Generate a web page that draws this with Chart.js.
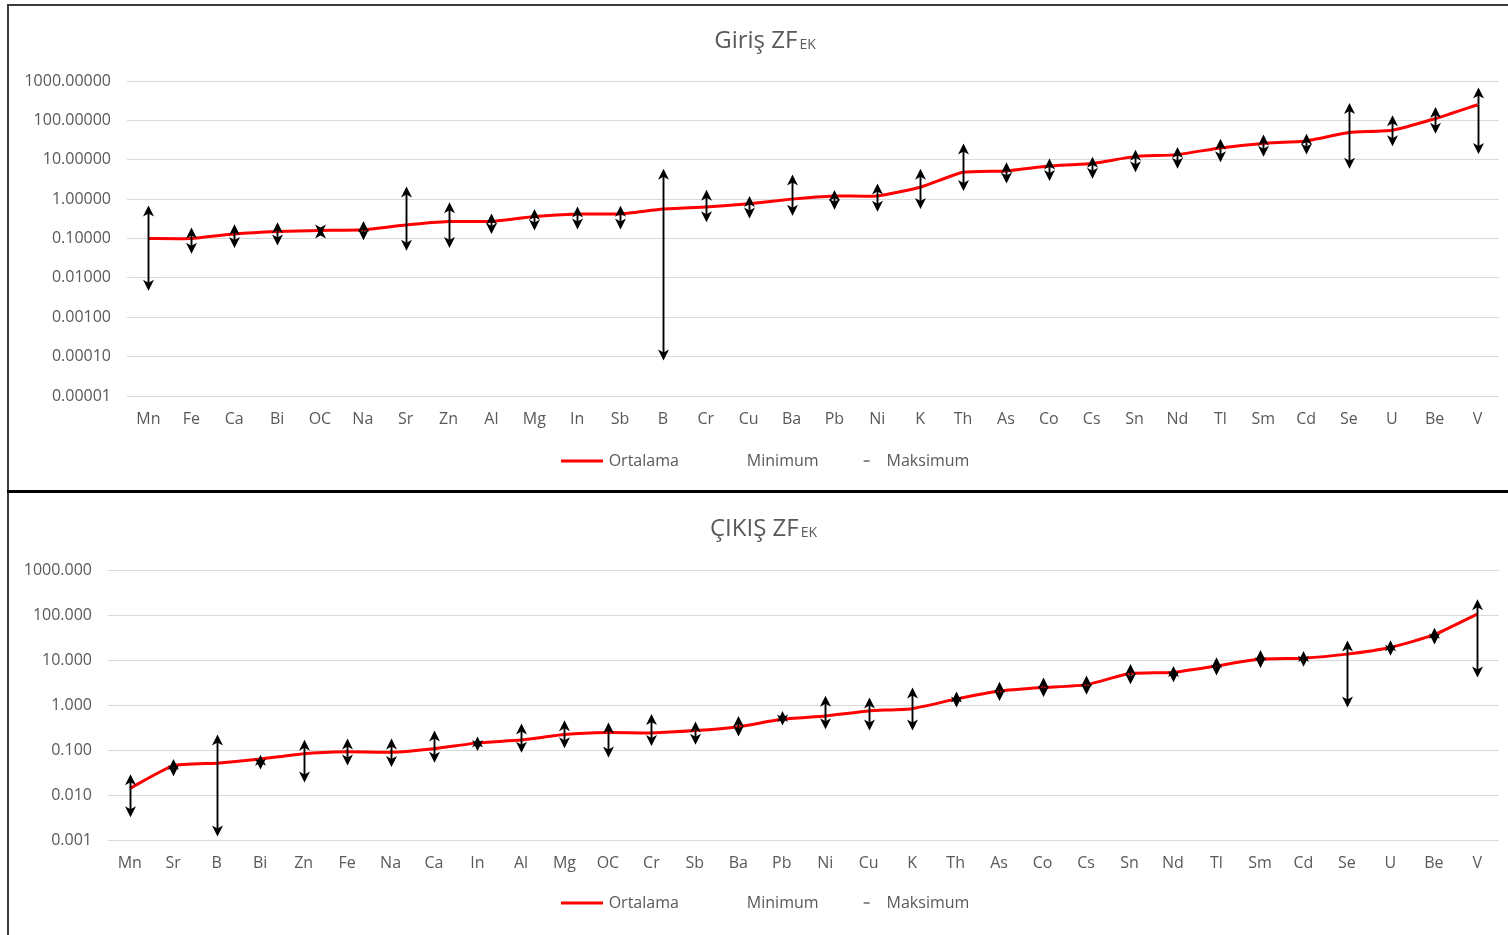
<!DOCTYPE html>
<html lang="tr">
<head>
<meta charset="utf-8">
<title>ZF EK</title>
<script src="https://cdn.jsdelivr.net/npm/chart.js@4.4.1/dist/chart.umd.min.js"></script>
<style>
  html, body { margin: 0; padding: 0; background: #fff; }
  body { width: 1508px; height: 935px; position: relative; overflow: hidden; }
  .frame-left { position: absolute; left: 7px; top: 4px; width: 2px; height: 931px; background: #3c3c3c; }
  .frame-top { position: absolute; left: 7px; top: 4px; width: 1501px; height: 2px; background: #3c3c3c; }
  .divider { position: absolute; left: 7px; top: 490px; width: 1501px; height: 3px; background: #000; }
  .panel { position: absolute; left: 9px; width: 1499px; }
  #p1 { top: 6px; height: 484px; }
  #p2 { top: 493px; height: 442px; }
</style>
</head>
<body>
<div class="frame-top"></div>
<div class="frame-left"></div>
<div class="divider"></div>
<div class="panel" id="p1"><canvas id="girisChart"></canvas></div>
<div class="panel" id="p2"><canvas id="cikisChart"></canvas></div>

<script>
// ---- Giriş (inlet) enrichment factors ----
const girisCategories = ['Mn','Fe','Ca','Bi','OC','Na','Sr','Zn','Al','Mg','In','Sb','B','Cr','Cu','Ba',
                         'Pb','Ni','K','Th','As','Co','Cs','Sn','Nd','Tl','Sm','Cd','Se','U','Be','V'];
const girisOrtalama = [0.100, 0.100, 0.13, 0.15, 0.16, 0.166, 0.22, 0.27, 0.27, 0.36, 0.42, 0.42, 0.56, 0.63, 0.76, 1.0,
                       1.2, 1.2, 2.0, 4.8, 5.2, 6.9, 8.0, 12, 13.5, 20, 26, 30, 49, 56, 110, 250];
const girisMinimum  = [0.0047, 0.041, 0.057, 0.066, 0.12, 0.09, 0.049, 0.057, 0.13, 0.16, 0.17, 0.17, 0.00008, 0.26, 0.32, 0.38,
                       0.54, 0.48, 0.56, 1.6, 2.5, 2.9, 3.3, 4.8, 5.9, 8.7, 12, 13.5, 5.9, 22, 46, 14];
const girisMaksimum = [0.69, 0.19, 0.23, 0.26, 0.19, 0.28, 2.1, 0.83, 0.43, 0.56, 0.65, 0.68, 5.9, 1.73, 1.2, 4.2,
                       1.7, 2.5, 5.9, 26, 8.7, 10.7, 12, 18, 21, 34, 44, 46, 276, 134, 218, 680];
const girisYTicks  = [0.00001, 0.0001, 0.001, 0.01, 0.1, 1, 10, 100, 1000];
const girisYLabels = ['0.00001','0.00010','0.00100','0.01000','0.10000','1.00000','10.00000','100.00000','1000.00000'];

// ---- Çıkış (outlet) enrichment factors ----
const cikisCategories = ['Mn','Sr','B','Bi','Zn','Fe','Na','Ca','In','Al','Mg','OC','Cr','Sb','Ba','Pb',
                         'Ni','Cu','K','Th','As','Co','Cs','Sn','Nd','Tl','Sm','Cd','Se','U','Be','V'];
const cikisOrtalama = [0.014, 0.045, 0.051, 0.063, 0.083, 0.091, 0.089, 0.107, 0.144, 0.166, 0.22, 0.245, 0.24, 0.27, 0.33, 0.48,
                       0.57, 0.74, 0.83, 1.35, 2.05, 2.45, 2.8, 5.0, 5.3, 7.4, 10.5, 11, 13.5, 19, 36, 105];
const cikisMinimum  = [0.0032, 0.026, 0.0012, 0.037, 0.019, 0.045, 0.042, 0.052, 0.095, 0.087, 0.11, 0.068, 0.123, 0.13, 0.20, 0.35,
                       0.29, 0.27, 0.27, 0.88, 1.23, 1.5, 1.7, 2.9, 3.2, 4.5, 6.6, 7.1, 0.88, 12.4, 22, 4.1];
const cikisMaksimum = [0.029, 0.063, 0.22, 0.078, 0.17, 0.18, 0.18, 0.27, 0.20, 0.39, 0.46, 0.41, 0.63, 0.43, 0.57, 0.74,
                       1.6, 1.46, 2.45, 2.0, 3.3, 4.1, 4.5, 8.1, 7.4, 11.5, 16.6, 15.8, 27, 27.6, 52, 225];
const cikisYTicks  = [0.001, 0.01, 0.1, 1, 10, 100, 1000];
const cikisYLabels = ['0.001','0.010','0.100','1.000','10.000','100.000','1000.000'];

const legendNames = ['Ortalama', 'Minimum', 'Maksimum'];

const FONT = "'Open Sans', sans-serif";
const TEXT_GREY = '#595959';
const GRID_GREY = '#d9d9d9';
Chart.defaults.font.family = FONT;
Chart.defaults.color = TEXT_GREY;

// Small legend sample images (line / none / dash)
function makeSample(kind) {
  const c = document.createElement('canvas');
  c.width = 42; c.height = 4;
  const g = c.getContext('2d');
  if (kind === 'line') { g.fillStyle = '#ff0000'; g.fillRect(0, 0.5, 42, 3); }
  if (kind === 'dash') { g.fillStyle = '#8c8c8c'; g.fillRect(25, 1, 6, 2); }
  return c;
}
const legendSamples = [makeSample('line'), makeSample('none'), makeSample('dash')];

// Min / max arrows drawn from each mean point along the value scale
const arrowPlugin = {
  id: 'minMaxArrows',
  afterDatasetsDraw(chart) {
    const { ctx, scales: { x, y } } = chart;
    const mean = chart.data.datasets[0].data;
    const lo = chart.data.datasets[1].data;
    const hi = chart.data.datasets[2].data;
    ctx.save();
    ctx.strokeStyle = '#000';
    ctx.fillStyle = '#000';
    ctx.lineWidth = 1.9;
    mean.forEach((m, i) => {
      const px = Math.round(x.getPixelForValue(i)) + 0.5;
      const pm = y.getPixelForValue(m);
      [hi[i], lo[i]].forEach(v => {
        const pt = y.getPixelForValue(v);
        const dir = pt < pm ? -1 : 1;
        ctx.beginPath();
        ctx.moveTo(px, pm);
        ctx.lineTo(px, pt - dir * 4);
        ctx.stroke();
        // stealth-style head
        ctx.beginPath();
        ctx.moveTo(px, pt);
        ctx.lineTo(px - 5.5, pt - dir * 11);
        ctx.lineTo(px, pt - dir * 8);
        ctx.lineTo(px + 5.5, pt - dir * 11);
        ctx.closePath();
        ctx.fill();
      });
    });
    ctx.restore();
  }
};

// Title with subscript part
const subTitlePlugin = {
  id: 'subTitle',
  afterDraw(chart, args, opts) {
    const ctx = chart.ctx;
    ctx.save();
    ctx.fillStyle = TEXT_GREY;
    ctx.textBaseline = 'alphabetic';
    ctx.textAlign = 'left';
    const mainFont = '24px ' + FONT;
    const subFont = '14px ' + FONT;
    ctx.font = mainFont;
    const wMain = ctx.measureText(opts.main).width;
    ctx.font = subFont;
    const wSub = ctx.measureText(opts.sub).width;
    const cx = (chart.chartArea.left + chart.chartArea.right) / 2 + opts.shift;
    const x0 = cx - (wMain + wSub + 2) / 2;
    ctx.font = mainFont;
    ctx.fillText(opts.main, x0, opts.baseline);
    ctx.font = subFont;
    ctx.fillText(opts.sub, x0 + wMain + 2, opts.baseline + 1);
    ctx.restore();
  }
};

// Nudges the legend row sideways after layout
const legendShiftPlugin = {
  id: 'legendShift',
  afterLayout(chart, args, opts) {
    if (chart.legend) {
      chart.legend.left += opts.dx;
      chart.legend.right += opts.dx;
    }
  }
};

function buildChart(canvasId, cfg) {
  return new Chart(document.getElementById(canvasId), {
    type: 'line',
    data: {
      labels: cfg.categories,
      datasets: [
        { label: legendNames[0], data: cfg.mean, borderColor: '#ff0000', borderWidth: 3,
          pointRadius: 0, tension: 0.15, fill: false },
        { label: legendNames[1], data: cfg.min, showLine: false, pointRadius: 0 },
        { label: legendNames[2], data: cfg.max, showLine: false, pointRadius: 0 }
      ]
    },
    options: {
      responsive: true,
      maintainAspectRatio: false,
      animation: false,
      events: [],
      layout: { padding: { top: cfg.top, left: 0, right: 9, bottom: cfg.bottomPad } },
      scales: {
        x: {
          type: 'category',
          offset: true,
          grid: { display: false },
          border: { display: false },
          ticks: { autoSkip: false, maxRotation: 0, padding: 6, color: TEXT_GREY, font: { size: 16 } },
          afterFit(s) { s.height = cfg.xHeight; }
        },
        y: {
          type: 'logarithmic',
          min: cfg.yTicks[0],
          max: cfg.yTicks[cfg.yTicks.length - 1],
          grid: { color: GRID_GREY, lineWidth: 1, drawTicks: false },
          border: { display: false },
          afterBuildTicks(s) { s.ticks = cfg.yTicks.map(v => ({ value: v, major: true })); },
          ticks: {
            padding: 16, color: TEXT_GREY, font: { size: 16 },
            callback: (v) => cfg.yLabels[cfg.yTicks.indexOf(v)]
          },
          afterFit(s) { s.width = cfg.yWidth; }
        }
      },
      plugins: {
        legend: {
          position: 'bottom',
          labels: {
            usePointStyle: true,
            pointStyleWidth: 38,
            padding: 22,
            color: TEXT_GREY,
            font: { size: 16 },
            generateLabels: () => legendNames.map((name, i) => ({
              text: name, pointStyle: legendSamples[i], datasetIndex: i, hidden: false,
              fillStyle: 'transparent', strokeStyle: 'transparent', lineWidth: 0, fontColor: TEXT_GREY
            }))
          }
        },
        title: { display: false },
        tooltip: { enabled: false },
        legendShift: { dx: 12 },
        subTitle: { main: cfg.title, sub: 'EK', baseline: cfg.titleBaseline, shift: cfg.titleShift }
      }
    },
    plugins: [arrowPlugin, subTitlePlugin, legendShiftPlugin]
  });
}

buildChart('girisChart', {
  categories: girisCategories, mean: girisOrtalama, min: girisMinimum, max: girisMaksimum,
  yTicks: girisYTicks, yLabels: girisYLabels, title: 'Giriş ZF',
  top: 75, bottomPad: 11, xHeight: 35, yWidth: 118, titleBaseline: 41.5, titleShift: -48
});

buildChart('cikisChart', {
  categories: cikisCategories, mean: cikisOrtalama, min: cikisMinimum, max: cikisMaksimum,
  yTicks: cikisYTicks, yLabels: cikisYLabels, title: 'ÇIKIŞ ZF',
  top: 77, bottomPad: 14, xHeight: 33, yWidth: 99, titleBaseline: 43, titleShift: -40
});
</script>
</body>
</html>
